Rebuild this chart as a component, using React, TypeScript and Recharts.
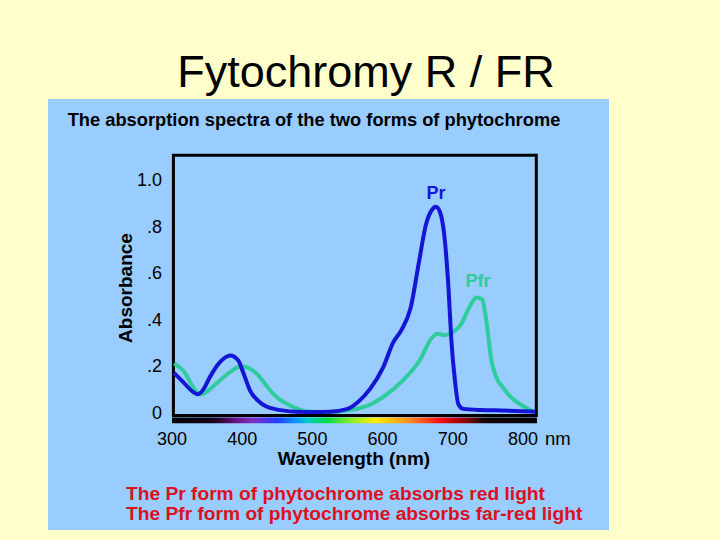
import React from "react";
import { LineChart, Line, XAxis, YAxis, ReferenceArea, ReferenceDot } from "recharts";

const prWavelength = [303, 316, 330, 337, 345, 354, 368, 383, 394, 402, 411, 425, 444, 477, 500, 525, 550, 565, 582, 601, 615, 627, 640, 652, 662, 670, 676, 682, 688, 694, 698, 703, 708, 715, 740, 770, 800, 818];
const prAbsorbance = [0.17, 0.13, 0.088, 0.078, 0.1, 0.152, 0.215, 0.245, 0.225, 0.167, 0.095, 0.044, 0.016, 0.003, 0.002, 0.003, 0.015, 0.045, 0.1, 0.195, 0.3, 0.355, 0.45, 0.65, 0.81, 0.87, 0.885, 0.86, 0.76, 0.53, 0.31, 0.14, 0.035, 0.015, 0.01, 0.008, 0.005, 0.003];

const pfrWavelength = [303, 316, 335, 342, 363, 383, 398, 410, 421, 432, 444, 468, 492, 510, 525, 550, 580, 605, 629, 653, 670, 678, 688, 700, 712, 724, 734, 742, 748, 755, 763, 772, 783, 796, 815];
const pfrAbsorbance = [0.21, 0.18, 0.088, 0.078, 0.124, 0.174, 0.198, 0.19, 0.165, 0.125, 0.08, 0.03, 0.005, 0.002, 0.002, 0.008, 0.03, 0.075, 0.138, 0.224, 0.32, 0.338, 0.332, 0.345, 0.38, 0.454, 0.494, 0.485, 0.39, 0.224, 0.145, 0.105, 0.065, 0.035, 0.003];

const xTicks = [300, 400, 500, 600, 700, 800];
const yTicks = [0, 0.2, 0.4, 0.6, 0.8, 1.0];

const prData = prWavelength.map((w, i) => ({ w, a: prAbsorbance[i] }));
const pfrData = pfrWavelength.map((w, i) => ({ w, a: pfrAbsorbance[i] }));

const FONT = "'Liberation Sans', Arial, sans-serif";

// visible spectrum strip under the plot
const spectrumStops: [number, string][] = [
  [300, "#000000"],
  [360, "#1a0018"],
  [390, "#6a1080"],
  [415, "#8030c0"],
  [450, "#2040ff"],
  [475, "#1090ff"],
  [495, "#00d0c0"],
  [520, "#00dd44"],
  [555, "#88ee22"],
  [590, "#ffee00"],
  [640, "#ff8820"],
  [680, "#ff1111"],
  [715, "#990000"],
  [745, "#150000"],
  [820, "#000000"],
];

const fmtY = (v: number) => (v === 0 ? "0" : v === 1 ? "1.0" : "." + Math.round(v * 10));

function XTick(props: any) {
  const { x, y, payload } = props;
  return (
    <g>
      <text x={x} y={y} dy={19} textAnchor="middle" fontSize={18} fill="#000" fontFamily={FONT}>
        {payload.value}
      </text>
      {payload.value === 800 && (
        <text x={x + 22} y={y} dy={19} textAnchor="start" fontSize={18.5} fill="#000" fontFamily={FONT}>
          nm
        </text>
      )}
    </g>
  );
}

export default function App() {
  return (
    <div style={{ position: "absolute", left: 0, top: 0, width: 720, height: 540, background: "#FFFFCC", overflow: "hidden", fontFamily: FONT }}>
      <div style={{ position: "absolute", left: 6, top: 49, width: 720, textAlign: "center", fontSize: 45, lineHeight: "45px", color: "#000" }}>
        Fytochromy R / FR
      </div>
      <div style={{ position: "absolute", left: 48, top: 99, width: 561, height: 431, background: "#99CCFF" }} />
      <div style={{ position: "absolute", left: 0, top: 109, width: 628, textAlign: "center", fontSize: 18.3, lineHeight: "22px", fontWeight: "bold", color: "#000" }}>
        The absorption spectra of the two forms of phytochrome
      </div>
      <div style={{ position: "absolute", left: 126, top: 484, fontSize: 19.2, lineHeight: "20px", fontWeight: "bold", color: "#DD1020", whiteSpace: "nowrap" }}>
        The Pr form of phytochrome absorbs red light
        <br />
        The Pfr form of phytochrome absorbs far-red light
      </div>
      <div style={{ position: "absolute", left: 254, top: 448, width: 200, textAlign: "center", fontSize: 19, lineHeight: "22px", fontWeight: "bold", color: "#000" }}>
        Wavelength (nm)
      </div>
      <div style={{ position: "absolute", left: 66, top: 277, width: 120, textAlign: "center", fontSize: 19, lineHeight: "22px", fontWeight: "bold", color: "#000", transform: "rotate(-90deg)" }}>
        Absorbance
      </div>
      <div style={{ position: "absolute", left: 0, top: 0 }}>
        <LineChart width={720} height={540} margin={{ top: 152, right: 183, bottom: 76, left: 132 }}>
          <defs>
            <linearGradient id="spectrum" x1="0" y1="0" x2="1" y2="0">
              {spectrumStops.map(([w, c]) => (
                <stop key={w} offset={(w - 300) / 520} stopColor={c} />
              ))}
            </linearGradient>
          </defs>
          <XAxis
            dataKey="w"
            type="number"
            domain={[300, 820]}
            ticks={xTicks}
            allowDataOverflow
            axisLine={false}
            tickLine={false}
            tickSize={0}
            height={40}
            tick={<XTick />}
            interval={0}
          />
          <YAxis
            type="number"
            domain={[-0.05, 1.12]}
            ticks={yTicks}
            allowDataOverflow
            axisLine={false}
            tickLine={false}
            tickSize={0}
            tickMargin={10}
            width={40}
            tickFormatter={fmtY}
            tick={{ fontSize: 18, fill: "#000", fontFamily: FONT }}
            interval={0}
          />
          <ReferenceArea x1={300} x2={820} y1={-0.047} y2={-0.022} fill="url(#spectrum)" fillOpacity={1} stroke="none" ifOverflow="visible" />
          <ReferenceArea x1={302} x2={819} y1={-0.013} y2={1.106} fill="none" stroke="#000" strokeWidth={3} ifOverflow="visible" />
          <Line data={pfrData} dataKey="a" type="monotone" stroke="#2FCC9C" strokeWidth={4} dot={false} isAnimationActive={false} />
          <Line data={prData} dataKey="a" type="monotone" stroke="#1515D5" strokeWidth={4} dot={false} isAnimationActive={false} />
          <ReferenceDot x={676} y={0.945} r={0} fill="none" stroke="none" label={{ value: "Pr", position: "center", fill: "#1515D5", fontSize: 18, fontWeight: "bold", fontFamily: FONT }} />
          <ReferenceDot x={736} y={0.565} r={0} fill="none" stroke="none" label={{ value: "Pfr", position: "center", fill: "#2FCC9C", fontSize: 18, fontWeight: "bold", fontFamily: FONT }} />
        </LineChart>
      </div>
    </div>
  );
}
